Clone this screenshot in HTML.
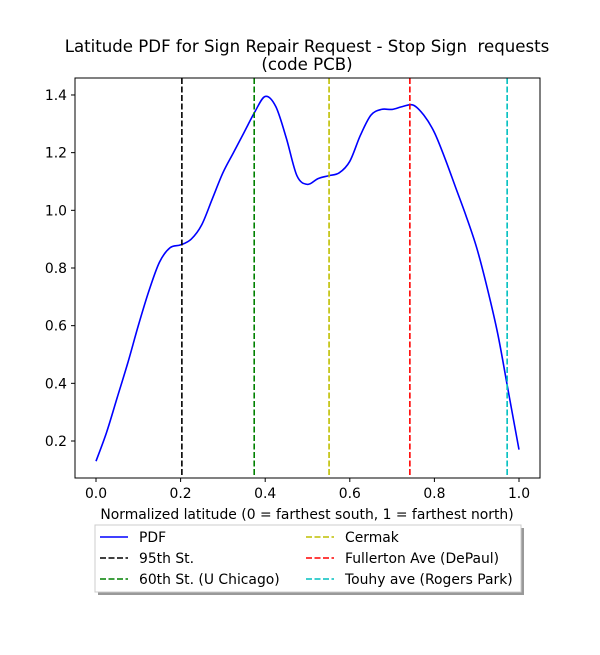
<!DOCTYPE html>
<html><head><meta charset="utf-8"><style>
body{margin:0;background:#fff;font-family:"Liberation Sans","DejaVu Sans",sans-serif}
svg text{font-family:"DejaVu Sans","Liberation Sans",sans-serif;fill:#000;white-space:pre}
</style></head><body>
<svg id="chart" width="600" height="650" xmlns="http://www.w3.org/2000/svg">
<text x="307" y="52" font-size="16.6" text-anchor="middle" xml:space="preserve">Latitude PDF for Sign Repair Request - Stop Sign&#160; requests</text>
<text x="307" y="70" font-size="16.6" text-anchor="middle">(code PCB)</text>
<g id="plot"></g>
<rect x="75" y="78" width="465" height="400" fill="none" stroke="#000" stroke-width="1"/>
<text x="307" y="519" font-size="13.9" text-anchor="middle">Normalized latitude (0 = farthest south, 1 = farthest north)</text>
<g>
<rect x="98" y="528" width="426" height="67" fill="#555" opacity="0.6"/>
<rect x="95" y="525" width="426" height="67" fill="#fff" stroke="#ccc"/>
<g id="legend-items"></g>
</g>
</svg>
<script>
const xs=[0,0.025,0.05,0.075,0.1,0.125,0.15,0.175,0.2,0.225,0.25,0.275,0.3,0.325,0.35,0.375,0.4,0.425,0.45,0.475,0.5,0.525,0.55,0.575,0.6,0.625,0.65,0.675,0.7,0.725,0.75,0.775,0.8,0.825,0.85,0.875,0.9,0.925,0.95,0.975,1.0];
const pdf=[0.13,0.23,0.35,0.47,0.6,0.72,0.82,0.87,0.88,0.9,0.95,1.04,1.13,1.2,1.27,1.34,1.395,1.36,1.25,1.12,1.09,1.11,1.12,1.13,1.17,1.26,1.33,1.35,1.35,1.36,1.365,1.33,1.27,1.18,1.08,0.98,0.87,0.73,0.57,0.37,0.17];
const refNames=["95th St.","60th St. (U Chicago)","Cermak","Fullerton Ave (DePaul)","Touhy ave (Rogers Park)"];
const refVals=[0.203,0.374,0.551,0.742,0.972];
const refColors=["#000","#008000","#bfbf00","#ff0000","#00bfbf"];
const xTicks=[0,0.2,0.4,0.6,0.8,1.0];
const yTicks=[0.2,0.4,0.6,0.8,1.0,1.2,1.4];
const X=v=>96+v*423, Y=v=>441-(v-0.2)/0.2*57.67;
const NS="http://www.w3.org/2000/svg", g=document.getElementById('plot');
function mk(t,a,p){const e=document.createElementNS(NS,t);for(const k in a)e.setAttribute(k,a[k]);(p||g).appendChild(e);return e;}
xTicks.forEach(t=>{
 const l=mk('line',{x1:X(t),x2:X(t),y1:478,y2:482,stroke:'#000'});
 
 
 const s=mk('text',{x:X(t),y:498,'font-size':13.9,'text-anchor':'middle'});s.textContent=t.toFixed(1);
 
 
});
yTicks.forEach(t=>{
 const l=mk('line',{x1:71,x2:75,y1:Y(t),y2:Y(t),stroke:'#000'});
 
 
 const s=mk('text',{x:67,y:Y(t)+5,'font-size':13.9,'text-anchor':'end'});s.textContent=t.toFixed(1);
 
 
});
const pts=xs.map((x,i)=>[X(x),Y(pdf[i])]);
let d='M'+pts[0][0]+','+pts[0][1];
for(let i=0;i<pts.length-1;i++){
 const p0=pts[Math.max(0,i-1)],p1=pts[i],p2=pts[i+1],p3=pts[Math.min(pts.length-1,i+2)];
 d+=` C${p1[0]+(p2[0]-p0[0])/6},${p1[1]+(p2[1]-p0[1])/6} ${p2[0]-(p3[0]-p1[0])/6},${p2[1]-(p3[1]-p1[1])/6} ${p2[0]},${p2[1]}`;
}
const c=mk('path',{d:d,fill:'none',stroke:'#0000ff','stroke-width':1.6});


refVals.forEach((v,i)=>{
 const l=mk('line',{x1:X(v),x2:X(v),y1:78,y2:478,stroke:refColors[i],'stroke-width':1.6,'stroke-dasharray':'6,2.5'});
 
 
});
const lg=document.getElementById('legend-items');
const entries=[["PDF","#0000ff",false]].concat(refNames.map((n,i)=>[n,refColors[i],true]));
entries.forEach((e,j)=>{
 const col=j<3?0:1,row=j%3;
 const x0=col?306:100,y0=537+row*21;
 const a={x1:x0,x2:x0+28,y1:y0,y2:y0,stroke:e[1],'stroke-width':1.6};
 if(e[2])a['stroke-dasharray']='6,2.5';
 const l=mk('line',a,lg);
 
 
 const t=mk('text',{x:x0+39,y:y0+5,'font-size':13.9},lg);t.textContent=e[0];
 
 
});
</script>
</body></html>
